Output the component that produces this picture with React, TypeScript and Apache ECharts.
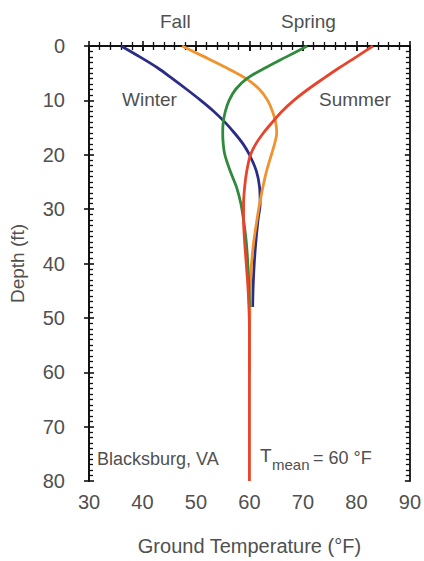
import React, { useEffect, useRef } from "react";
import * as echarts from "echarts";

const winterDepth = [0, 2, 4, 6, 8, 10, 12, 14, 16, 18, 20, 23, 26, 29, 32, 36, 40, 44, 48];
const winterTemp = [36, 39.5, 42.8, 45.6, 48.3, 50.9, 53.3, 55.4, 57.2, 58.8, 60.0, 61.3, 61.9, 62.0, 61.6, 61.2, 60.9, 60.7, 60.6];

const fallDepth = [0, 2, 4, 6, 8, 10, 12, 14, 16, 18, 20, 23, 26, 29, 32, 36, 40, 44, 48, 55, 60];
const fallTemp = [47.4, 51.6, 55.7, 59.4, 61.9, 63.4, 64.3, 64.9, 65.1, 64.7, 64.1, 63.2, 62.5, 61.9, 61.4, 60.8, 60.4, 60.2, 60.1, 60, 60];

const springDepth = [0, 2, 4, 6, 8, 10, 12, 14, 16, 18, 20, 23, 26, 29, 32, 36, 40, 44, 48];
const springTemp = [70.8, 66.9, 63.0, 59.5, 57.4, 56.2, 55.5, 55.1, 55.0, 55.1, 55.4, 56.4, 57.6, 58.4, 58.9, 59.4, 59.7, 59.9, 60.0];

const summerDepth = [0, 2, 4, 6, 8, 10, 12, 14, 16, 18, 20, 23, 26, 29, 32, 36, 40, 44, 48, 52, 80];
const summerTemp = [83.1, 80.0, 76.8, 73.8, 70.9, 68.3, 66.1, 64.3, 62.6, 61.2, 60.2, 59.5, 59.1, 58.9, 58.9, 59.1, 59.4, 59.7, 59.9, 60, 60];

const xTicks = [30, 90, 10];
const yTicks = [0, 80, 10];

const seasonNames = ["Winter", "Fall", "Spring", "Summer"];
const seasonColors = ["#2b2c86", "#f0922e", "#2f8a3c", "#e8432c"];

function pairs(t: number[], d: number[]) {
  return t.map((v, i) => [v, d[i]]);
}

export default function App() {
  const ref = useRef<HTMLDivElement>(null);
  useEffect(() => {
    if (!ref.current) return;
    const chart = echarts.init(ref.current, undefined, { renderer: "svg" });
    const font = "Liberation Sans, Arial, sans-serif";
    const textColor = "#505050";
    const axisLine = { show: true, lineStyle: { color: "#111", width: 1.8 } };
    const baseX = { type: "value", min: xTicks[0], max: xTicks[1], interval: xTicks[2], gridIndex: 0, splitLine: { show: false } };
    const baseY = { type: "value", min: yTicks[0], max: yTicks[1], interval: yTicks[2], inverse: true, gridIndex: 0, splitLine: { show: false } };
    const dataSets = [
      pairs(winterTemp, winterDepth),
      pairs(fallTemp, fallDepth),
      pairs(springTemp, springDepth),
      pairs(summerTemp, summerDepth),
    ];
    const tickStyle = { color: "#111", width: 1.6 };
    const minorStyle = { color: "#111", width: 1.3 };
    chart.setOption({
      animation: false,
      backgroundColor: "#fff",
      grid: { left: 88, right: 14, top: 46, bottom: 80 },
      xAxis: [
        {
          ...baseX,
          position: "bottom",
          axisLine,
          axisTick: { show: true, inside: false, length: 5, lineStyle: tickStyle },
          axisLabel: { show: true, color: textColor, fontSize: 20, fontFamily: font, margin: 11 },
          name: "Ground Temperature (°F)",
          nameLocation: "middle",
          nameGap: 55,
          nameTextStyle: { color: textColor, fontSize: 20, fontFamily: font },
        },
        {
          ...baseX,
          position: "bottom",
          axisLine,
          axisTick: { show: true, inside: true, length: 5, lineStyle: tickStyle },
          minorTick: { show: true, splitNumber: 5, length: 4, lineStyle: minorStyle },
          axisLabel: { show: false },
        },
        {
          ...baseX,
          position: "top",
          axisLine,
          axisTick: { show: true, inside: true, length: 5, lineStyle: tickStyle },
          minorTick: { show: true, splitNumber: 5, length: 4, lineStyle: minorStyle },
          axisLabel: { show: false },
        },
      ],
      yAxis: [
        {
          ...baseY,
          position: "left",
          axisLine,
          axisTick: { show: true, inside: false, length: 5, lineStyle: tickStyle },
          axisLabel: { show: true, color: textColor, fontSize: 20, fontFamily: font, margin: 24 },
          name: "Depth (ft)",
          nameLocation: "middle",
          nameGap: 62,
          nameRotate: 90,
          nameTextStyle: { color: textColor, fontSize: 19, fontFamily: font },
        },
        {
          ...baseY,
          position: "left",
          axisLine,
          axisTick: { show: true, inside: true, length: 5, lineStyle: tickStyle },
          minorTick: { show: true, splitNumber: 10, length: 4, lineStyle: minorStyle },
          axisLabel: { show: false },
        },
        {
          ...baseY,
          position: "right",
          axisLine,
          axisTick: { show: true, inside: true, length: 5, lineStyle: tickStyle },
          minorTick: { show: true, splitNumber: 10, length: 4, lineStyle: minorStyle },
          axisLabel: { show: false },
        },
      ],
      series: seasonNames.map((name, i) => ({
        name,
        type: "line",
        xAxisIndex: 0,
        yAxisIndex: 0,
        data: dataSets[i],
        smooth: 0.3,
        symbol: "none",
        lineStyle: { color: seasonColors[i], width: 2.8 },
        z: i === 3 ? 5 : 3,
      })),
      graphic: [
        { type: "text", left: 160, top: 12, style: { text: "Fall", fill: textColor, fontSize: 19, fontFamily: font } },
        { type: "text", left: 281, top: 12, style: { text: "Spring", fill: textColor, fontSize: 19, fontFamily: font } },
        { type: "text", left: 122, top: 90, style: { text: "Winter", fill: textColor, fontSize: 19, fontFamily: font } },
        { type: "text", left: 319, top: 90, style: { text: "Summer", fill: textColor, fontSize: 19, fontFamily: font } },
        { type: "text", left: 97, top: 450, style: { text: "Blacksburg, VA", fill: textColor, fontSize: 18, fontFamily: font } },
        { type: "text", left: 260, top: 446, style: { text: "T", fill: textColor, fontSize: 19, fontFamily: font } },
        { type: "text", left: 272, top: 457, style: { text: "mean", fill: textColor, fontSize: 15, fontFamily: font } },
        { type: "text", left: 313, top: 449, style: { text: "= 60 °F", fill: textColor, fontSize: 18, fontFamily: font } },
      ],
    });
    return () => chart.dispose();
  }, []);
  return <div ref={ref} style={{ width: 424, height: 561, position: "absolute", left: 0, top: 0 }} />;
}
